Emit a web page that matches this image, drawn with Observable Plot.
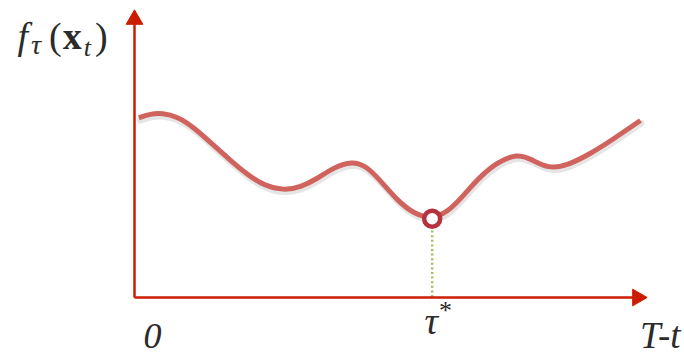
<!DOCTYPE html>
<html>
<head>
<meta charset="utf-8">
<script src="https://cdn.jsdelivr.net/npm/d3@7"></script>
<script src="https://cdn.jsdelivr.net/npm/@observablehq/plot@0.6"></script>
<style>
  html, body { margin: 0; padding: 0; background: #fff; }
  svg { display: block; }
</style>
</head>
<body>
<div id="chart"></div>
<script>
// Curve samples (time axis 0..T, objective value)
const curveX = [0.084, 0.313, 0.541, 0.834, 1.158, 1.549, 1.875, 2.201, 2.525, 2.916, 3.242, 3.568, 3.893, 4.252, 4.512, 4.805, 5.131, 5.455, 5.814, 6.107, 6.367, 6.563, 6.758, 7.084, 7.475, 7.734, 8.092, 8.451, 8.906, 9.361, 9.883];
const curveY = [6.261, 6.401, 6.422, 6.307, 5.934, 5.296, 4.774, 4.286, 3.902, 3.728, 3.843, 4.136, 4.540, 4.749, 4.599, 4.077, 3.380, 2.916, 2.742, 2.972, 3.439, 3.843, 4.216, 4.714, 5.007, 4.833, 4.484, 4.599, 5.007, 5.530, 6.167];
// Optimum point
const optX = [5.814];
const optY = [2.742];
// Axis extents
const axisMaxX = 10;
const axisMaxY = 10;
// Labels
const tickLabels = ["0", "τ*", "T-t"];
const yLabel = "fτ(xt)";

const curve = curveX.map((x, i) => ({x, y: curveY[i]}));
const opt = optX.map((x, i) => ({x, y: optY[i]}));

const axisColor = "#cc1c00";
const textFont = "'Liberation Serif', 'DejaVu Serif', serif";
const textColor = "#2b2b2b";

const plot = Plot.plot({
  width: 684,
  height: 355,
  marginLeft: 134,
  marginRight: 38,
  marginTop: 10,
  marginBottom: 58,
  x: {domain: [0, axisMaxX], axis: null},
  y: {domain: [0, axisMaxY], axis: null},
  style: {background: "#fff", overflow: "visible"},
  marks: [
    // green dotted drop line
    Plot.ruleX(opt, {x: "x", y1: 0, y2: "y", stroke: "#9cc05a", strokeWidth: 2.5, strokeDasharray: "2,2.6"}),
    // axes
    Plot.link([{x1: 0, y1: 0, x2: 0, y2: axisMaxY * 0.96}], {x1: "x1", y1: "y1", x2: "x2", y2: "y2", stroke: axisColor, strokeWidth: 2.5}),
    Plot.link([{x1: 0, y1: 0, x2: axisMaxX * 0.98, y2: 0}], {x1: "x1", y1: "y1", x2: "x2", y2: "y2", stroke: axisColor, strokeWidth: 2.5}),
    Plot.dot([{x: 0, y: axisMaxY}], {x: "x", y: "y", symbol: "triangle", r: 6.2, fill: axisColor, stroke: axisColor, strokeWidth: 1, dy: 9}),
    Plot.dot([{x: axisMaxX, y: 0}], {x: "x", y: "y", symbol: "triangle", r: 6.2, fill: axisColor, stroke: axisColor, strokeWidth: 1, rotate: 90, dx: -9}),
    // curve shadow
    Plot.line(curve, {x: "x", y: "y", curve: "basis", stroke: "#000", strokeOpacity: 0.1, strokeWidth: 6, dy: 3, dx: 1}),
    // curve
    Plot.line(curve, {x: "x", y: "y", curve: "basis", stroke: "#d0635d", strokeWidth: 5, strokeLinecap: "butt"}),
    // optimum marker
    Plot.dot(opt, {x: "x", y: "y", r: 8, fill: "#fff", stroke: "#b5323f", strokeWidth: 4.5}),
    // tick labels
    Plot.text([tickLabels[0]], {x: () => 0, y: () => 0, text: d => d, dx: 18, dy: 39, fontSize: 36, fontStyle: "italic", fontFamily: textFont, fill: textColor}),
    Plot.text([tickLabels[1]], {x: () => optX[0], y: () => 0, text: d => d, dx: 6, dy: 24, fontSize: 38, fontStyle: "italic", fontFamily: textFont, fill: textColor}),
    Plot.text([tickLabels[2]], {x: () => axisMaxX, y: () => 0, text: d => d, textAnchor: "end", dx: 34, dy: 39, fontSize: 37, fontStyle: "italic", fontFamily: textFont, fill: textColor}),
    // y label
    Plot.text([yLabel], {x: () => 0, y: () => axisMaxY, text: d => d, textAnchor: "start", dx: -117, dy: 26, fontSize: 38, fontFamily: textFont, fill: textColor})
  ]
});

document.getElementById("chart").appendChild(plot);

// Rich formatting of math labels with tspans
const svg = d3.select(plot);
svg.selectAll("text").each(function() {
  const t = d3.select(this);
  const s = this.textContent;
  if (s === yLabel) {
    t.text("");
    t.append("tspan").attr("font-style", "italic").text("f");
    t.append("tspan").attr("font-style", "italic").attr("font-size", 28).attr("dy", 5).attr("dx", 3).text("τ");
    t.append("tspan").attr("dy", -5).attr("dx", 8).text("(");
    t.append("tspan").attr("font-weight", "bold").attr("dx", 1).text("x");
    t.append("tspan").attr("font-style", "italic").attr("font-size", 26).attr("dy", 7).attr("dx", 2).text("t");
    t.append("tspan").attr("dy", -7).attr("dx", 4).text(")");
  } else if (s === tickLabels[1]) {
    t.text("");
    t.append("tspan").text("τ");
    t.append("tspan").attr("font-size", 26).attr("dy", -15).attr("dx", 1).attr("font-style", "normal").text("*");
  }
});
</script>
</body>
</html>
